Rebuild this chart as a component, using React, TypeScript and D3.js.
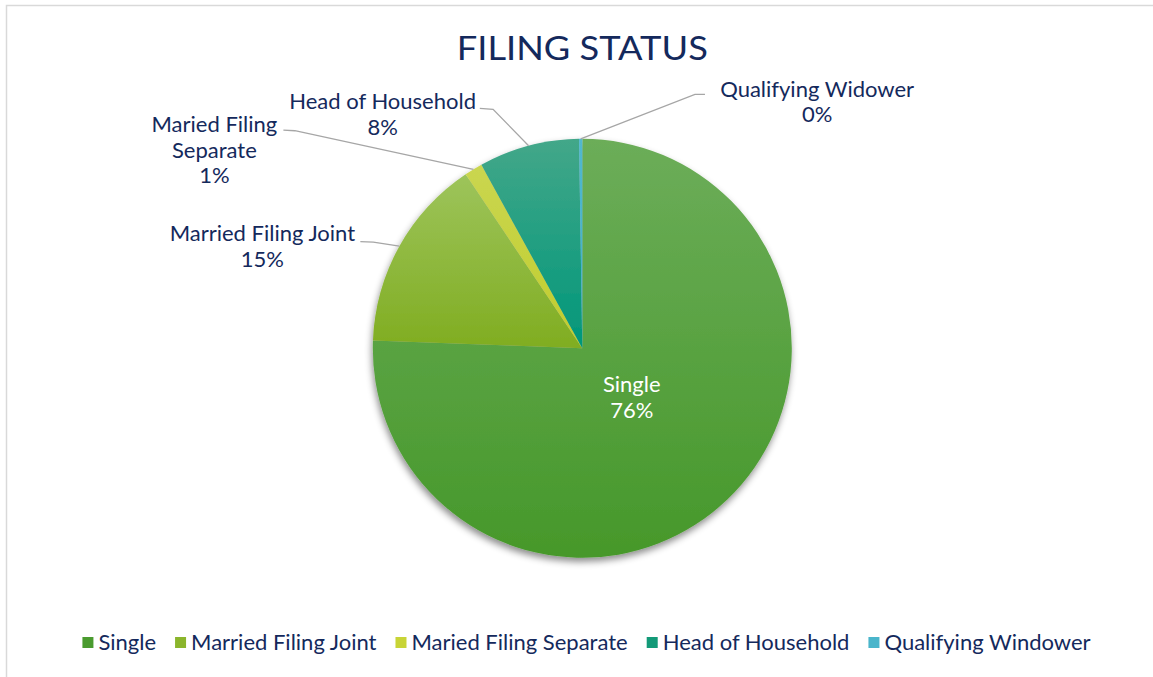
import React, { useEffect, useRef } from 'react'
import * as d3 from 'd3'

// filing status shares (percent)
const categories = ['Single', 'Married Filing Joint', 'Maried Filing Separate', 'Head of Household', 'Qualifying Widower']
const values = [75.6, 15.0, 1.4, 7.75, 0.25]
const labelLines = [['Single'], ['Married Filing Joint'], ['Maried Filing', 'Separate'], ['Head of Household'], ['Qualifying Widower']]
const legendLabels = ['Single', 'Married Filing Joint', 'Maried Filing Separate', 'Head of Household', 'Qualifying Windower']
const topColors = ['#6cad59', '#9dc45b', '#cad650', '#43a789', '#52b8cf']
const bottomColors = ['#46982a', '#80ad21', '#c0cd2c', '#00977a', '#3fb0c8']
const legendColors = ['#4a9b2f', '#8bb52c', '#c8d436', '#139a78', '#4ab5cb']

const W = 1153
const H = 677
const TEXT = '#14295c'
const FONT = 'Lato, "Noto Sans", sans-serif'
const LABEL_SIZE = 22

// label placement relative to the slice's outer edge point (dx, dy)
const labelLayout = [
  { inside: true },
  { elbow: [-26, -4], end: [-39, -4.5], text: [-137, -5] },
  { elbow: [-178.5, -38.6], end: [-190, -39.3], text: [-259, -37.3] },
  { elbow: [-35.5, -36.5], end: [-48.8, -37.5], text: [-146, -36.8] },
  { elbow: [114.3, -44.5], end: [124.3, -44.5], text: [236.5, -42.1] },
]

export default function App() {
  const ref = useRef(null)

  useEffect(() => {
    document.body.style.margin = '0'
    const svg = d3.select(ref.current)
    svg.selectAll('*').remove()

    const cx = 582.3, cy = 348.3, r = 209.5
    const total = d3.sum(values)
    const data = categories.map((c, i) => ({ name: c, value: values[i], i }))

    const defs = svg.append('defs')
    data.forEach((d, i) => {
      const g = defs.append('linearGradient')
        .attr('id', 'grad' + i)
        .attr('x1', 0).attr('y1', 0).attr('x2', 0).attr('y2', 1)
      g.append('stop').attr('offset', '0%').attr('stop-color', topColors[i])
      g.append('stop').attr('offset', '100%').attr('stop-color', bottomColors[i])
    })
    const f = defs.append('filter').attr('id', 'shadow')
      .attr('x', '-20%').attr('y', '-20%').attr('width', '140%').attr('height', '140%')
    f.append('feDropShadow')
      .attr('dx', -1).attr('dy', 4).attr('stdDeviation', 3.5)
      .attr('flood-color', '#000').attr('flood-opacity', 0.45)

    // chart area border
    svg.append('rect')
      .attr('x', 6.5).attr('y', 5.5).attr('width', W + 20).attr('height', H + 20)
      .attr('fill', 'white').attr('stroke', '#d9d9d9').attr('stroke-width', 1.5)

    svg.append('text')
      .attr('x', cx).attr('y', 59.5)
      .attr('text-anchor', 'middle')
      .attr('font-family', FONT).attr('font-size', 33)
      .attr('fill', TEXT)
      .attr('textLength', 251).attr('lengthAdjust', 'spacingAndGlyphs')
      .text('FILING STATUS')

    const pie = d3.pie().sort(null).value(d => d.value)
    const arcs = pie(data)
    const arc = d3.arc().innerRadius(0).outerRadius(r)
    const edge = d3.arc().innerRadius(r).outerRadius(r)
    const inner = d3.arc().innerRadius(r * 0.34).outerRadius(r * 0.34)

    const g = svg.append('g').attr('transform', `translate(${cx},${cy})`)
    const slices = g.append('g').attr('filter', 'url(#shadow)')
    slices.selectAll('path')
      .data(arcs)
      .enter().append('path')
      .attr('d', arc)
      .attr('fill', d => `url(#grad${d.data.i})`)

    const pct = v => Math.round(v / total * 100) + '%'

    arcs.forEach((a, i) => {
      const lay = labelLayout[i]
      const lines = [...labelLines[i], pct(values[i])]
      if (lay.inside) {
        const [x, y] = inner.centroid(a)
        const t = g.append('text')
          .attr('text-anchor', 'middle')
          .attr('font-family', FONT).attr('font-size', LABEL_SIZE)
          .attr('fill', 'white')
        lines.forEach((l, k) => {
          t.append('tspan').attr('x', x).attr('y', y - 7.5 + k * 26.3).text(l)
        })
        return
      }
      const [ex, ey] = edge.centroid(a)
      g.append('polyline')
        .attr('points', [[ex, ey], [ex + lay.elbow[0], ey + lay.elbow[1]], [ex + lay.end[0], ey + lay.end[1]]].map(p => p.join(',')).join(' '))
        .attr('fill', 'none').attr('stroke', '#a6a6a6').attr('stroke-width', 1.3)
      const t = g.append('text')
        .attr('text-anchor', 'middle')
        .attr('font-family', FONT).attr('font-size', LABEL_SIZE)
        .attr('fill', TEXT)
      lines.forEach((l, k) => {
        t.append('tspan').attr('x', ex + lay.text[0]).attr('y', ey + lay.text[1] + k * 25.5).text(l)
      })
    })

    // legend
    const lg = svg.append('g')
    const items = legendLabels.map((l, i) => {
      const it = lg.append('g')
      it.append('rect').attr('width', 11).attr('height', 11).attr('y', 637).attr('fill', legendColors[i])
      const tx = it.append('text')
        .attr('x', 16).attr('y', 649.5)
        .attr('font-family', FONT).attr('font-size', LABEL_SIZE)
        .attr('fill', TEXT).text(l)
      return { it, w: 16 + tx.node().getComputedTextLength() }
    })
    const gap = 19
    const totalW = d3.sum(items, d => d.w) + gap * (items.length - 1)
    let x = 586.5 - totalW / 2
    items.forEach(d => {
      d.it.attr('transform', `translate(${x},0)`)
      x += d.w + gap
    })
  }, [])

  return <svg ref={ref} width={W} height={H} style={{ display: 'block' }} />
}
